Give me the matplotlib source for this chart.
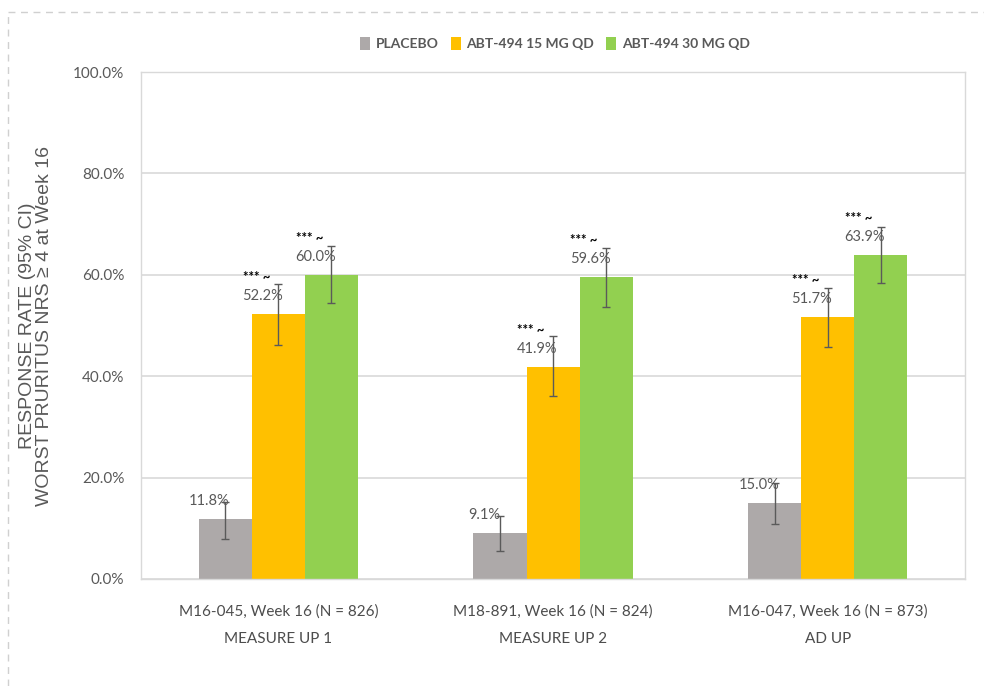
import numpy as np
import matplotlib
matplotlib.use("Agg")
import matplotlib.pyplot as plt
from matplotlib.lines import Line2D
from matplotlib.patches import Patch
from matplotlib.ticker import FuncFormatter

# data
studies = ["M16-045, Week 16 (N = 826)\nMEASURE UP 1",
           "M18-891, Week 16 (N = 824)\nMEASURE UP 2",
           "M16-047, Week 16 (N = 873)\nAD UP"]
series_names = ["PLACEBO", "ABT-494 15 MG QD", "ABT-494 30 MG QD"]
placebo = [11.8, 9.1, 15.0]
upa15 = [52.2, 41.9, 51.7]
upa30 = [60.0, 59.6, 63.9]
placebo_ci = [(7.9, 15.1), (5.6, 12.4), (10.8, 19.0)]
upa15_ci = [(46.2, 58.2), (36.0, 47.9), (45.8, 57.4)]
upa30_ci = [(54.4, 65.7), (53.6, 65.2), (58.4, 69.4)]
sig_marks = [None, "*** ~", "*** ~"]   # per series

colors = ["#ADA9A9", "#FFC000", "#92D050"]
TXT = "#595959"
NARROW = ["Lato", "DejaVu Sans"]

fig = plt.figure(figsize=(9.84, 6.86), dpi=100)
ax = fig.add_axes([0.1433, 0.156, 0.8374, 0.739])

x = np.arange(len(studies))
width = 0.193
all_vals = [placebo, upa15, upa30]
all_ci = [placebo_ci, upa15_ci, upa30_ci]

for i, (vals, ci) in enumerate(zip(all_vals, all_ci)):
    pos = x + (i - 1) * width
    lo = [v - c[0] for v, c in zip(vals, ci)]
    hi = [c[1] - v for v, c in zip(vals, ci)]
    ax.bar(pos, vals, width, color=colors[i], zorder=2)
    ax.errorbar(pos, vals, yerr=[lo, hi], fmt="none", ecolor="#5a5a5a",
                elinewidth=1.0, capsize=3, capthick=1.0, zorder=3)
    for p, v in zip(pos, vals):
        ax.annotate(f"{v:.1f}%", (p, v), xytext=(-16, 18), textcoords="offset pixels",
                    ha="center", va="center", fontsize=10.5,
                    color=TXT, family=NARROW, zorder=4)
        if sig_marks[i]:
            ax.annotate(sig_marks[i], (p, v), xytext=(-22, 37), textcoords="offset pixels",
                        ha="center", va="center", fontsize=9.5, fontweight="bold",
                        color="black", family=NARROW, zorder=4)

ax.set_xlim(-0.5, 2.5)
ax.set_ylim(0, 100)
ax.set_yticks(np.arange(0, 101, 20))
ax.yaxis.set_major_formatter(FuncFormatter(lambda v, _: f"{v:.1f}%"))
for lab in ax.get_yticklabels():
    lab.set_family(NARROW)
ax.set_xticks(x)
ax.set_xticklabels(studies, fontsize=11, color="#4d4d4d", family=NARROW, linespacing=2.2)
ax.tick_params(axis="x", length=0, pad=18)
ax.tick_params(axis="y", length=0, pad=12, labelsize=11, labelcolor=TXT)
ax.grid(axis="y", color="#D9D9D9", linewidth=1.2, zorder=0)
ax.set_axisbelow(True)
for s in ax.spines.values():
    s.set_color("#D9D9D9")
    s.set_linewidth(1.0)

ax.set_ylabel("RESPONSE RATE (95% CI)\nWORST PRURITUS NRS \u2265 4 at Week 16",
              fontsize=14, color=TXT, linespacing=0.95,
              family=["Liberation Sans", "DejaVu Sans"])
ax.yaxis.set_label_coords(-0.107, 0.5)

handles = [Patch(facecolor=c, edgecolor="none") for c in colors]
fig.legend(handles, series_names, loc="center", bbox_to_anchor=(0.564, 0.936), ncol=3,
           frameon=False, handlelength=0.7, handleheight=1.0, handletextpad=0.4,
           columnspacing=0.9, prop={"family": NARROW, "size": 10, "weight": "bold"},
           labelcolor=TXT)

# dashed frame around the chart area
fig.add_artist(Line2D([8 / 984, 1.0], [1 - 12 / 686] * 2, transform=fig.transFigure,
                      color="#D0D0D0", linestyle=(0, (5, 4)), linewidth=1.0))
fig.add_artist(Line2D([8 / 984] * 2, [0, 1 - 12 / 686], transform=fig.transFigure,
                      color="#D0D0D0", linestyle=(0, (5, 4)), linewidth=1.0))

fig.savefig("out.png", dpi=100)
